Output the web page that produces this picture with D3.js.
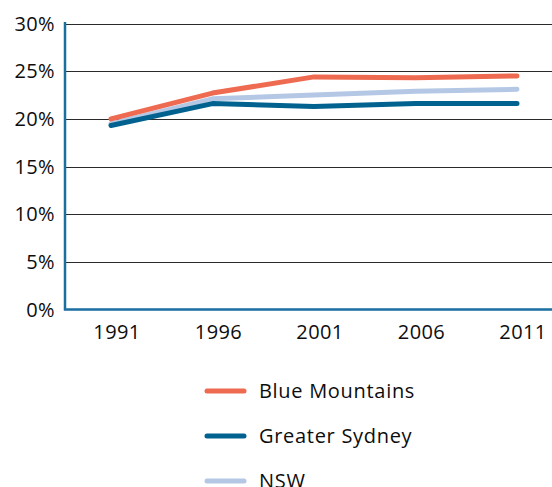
<!DOCTYPE html>
<html lang="en">
<head>
    <meta charset="UTF-8">
    <title>Blue Mountains vs Greater Sydney vs NSW</title>
    <script src="https://d3js.org/d3.v7.min.js"></script>
    <style>
        body { margin: 0; background: #fff; }
        text { font-family: "Open Sans", "Noto Sans", sans-serif; fill: #0d0d0d; }
        .tick-label { font-size: 20px; letter-spacing: 0.4px; }
        .legend-label { font-size: 20px; letter-spacing: 0.7px; }
    </style>
</head>
<body>
<svg width="552" height="487"></svg>
<script>
    const width = 552;
    const height = 487;

    const years = ["1991", "1996", "2001", "2006", "2011"];
    const blueMountains = [20.0, 22.7, 24.4, 24.3, 24.5];
    const greaterSydney = [19.3, 21.6, 21.3, 21.6, 21.6];
    const nsw = [19.5, 22.1, 22.5, 22.9, 23.1];
    const yTicks = [0, 5, 10, 15, 20, 25, 30];

    const series = [
        { name: "Blue Mountains", values: blueMountains, color: "#ee6a50" },
        { name: "Greater Sydney", values: greaterSydney, color: "#02628f" },
        { name: "NSW", values: nsw, color: "#b4c8e6" }
    ];
    // drawing order: NSW under the others at the start, Sydney over NSW
    const drawOrder = [series[2], series[1], series[0]];

    const svg = d3.select("svg");

    const axisX = 65;
    const x = d3.scalePoint()
        .domain(years)
        .range([111, 517]);

    const y = d3.scaleLinear()
        .domain([0, 30])
        .range([309.5, 23.5]);

    // gridlines
    svg.append("g")
        .selectAll("line")
        .data(yTicks.filter(d => d > 0))
        .enter().append("line")
        .attr("x1", axisX)
        .attr("x2", width)
        .attr("y1", d => Math.round(y(d)) + 0.5)
        .attr("y2", d => Math.round(y(d)) + 0.5)
        .attr("stroke", "#2a2a2a")
        .attr("stroke-width", 1);

    // y tick labels
    svg.append("g")
        .selectAll("text")
        .data(yTicks)
        .enter().append("text")
        .attr("class", "tick-label")
        .attr("x", 55)
        .attr("y", d => y(d))
        .attr("dy", "0.36em")
        .attr("text-anchor", "end")
        .text(d => d + "%");

    // x tick labels
    svg.append("g")
        .selectAll("text")
        .data(years)
        .enter().append("text")
        .attr("class", "tick-label")
        .attr("x", d => x(d) + 6)
        .attr("y", 339)
        .attr("text-anchor", "middle")
        .text(d => d);

    // lines
    const line = d3.line()
        .x((d, i) => x(years[i]))
        .y(d => y(d));

    svg.append("g")
        .selectAll("path")
        .data(drawOrder)
        .enter().append("path")
        .attr("d", d => line(d.values))
        .attr("fill", "none")
        .attr("stroke", d => d.color)
        .attr("stroke-width", 5)
        .attr("stroke-linecap", "round")
        .attr("stroke-linejoin", "round");

    // axes (left and bottom)
    svg.append("path")
        .attr("d", `M${axisX},22 V${y(0)} H${width}`)
        .attr("fill", "none")
        .attr("stroke", "#1a6ea0")
        .attr("stroke-width", 2.5);

    // legend
    const legend = svg.append("g")
        .selectAll("g")
        .data(series)
        .enter().append("g")
        .attr("transform", (d, i) => `translate(0, ${391 + i * 45})`);

    legend.append("line")
        .attr("x1", 207)
        .attr("x2", 244)
        .attr("y1", 0)
        .attr("y2", 0)
        .attr("stroke", d => d.color)
        .attr("stroke-width", 5)
        .attr("stroke-linecap", "round");

    legend.append("text")
        .attr("class", "legend-label")
        .attr("x", 259)
        .attr("y", 0)
        .attr("dy", "0.36em")
        .text(d => d.name);
</script>
</body>
</html>
